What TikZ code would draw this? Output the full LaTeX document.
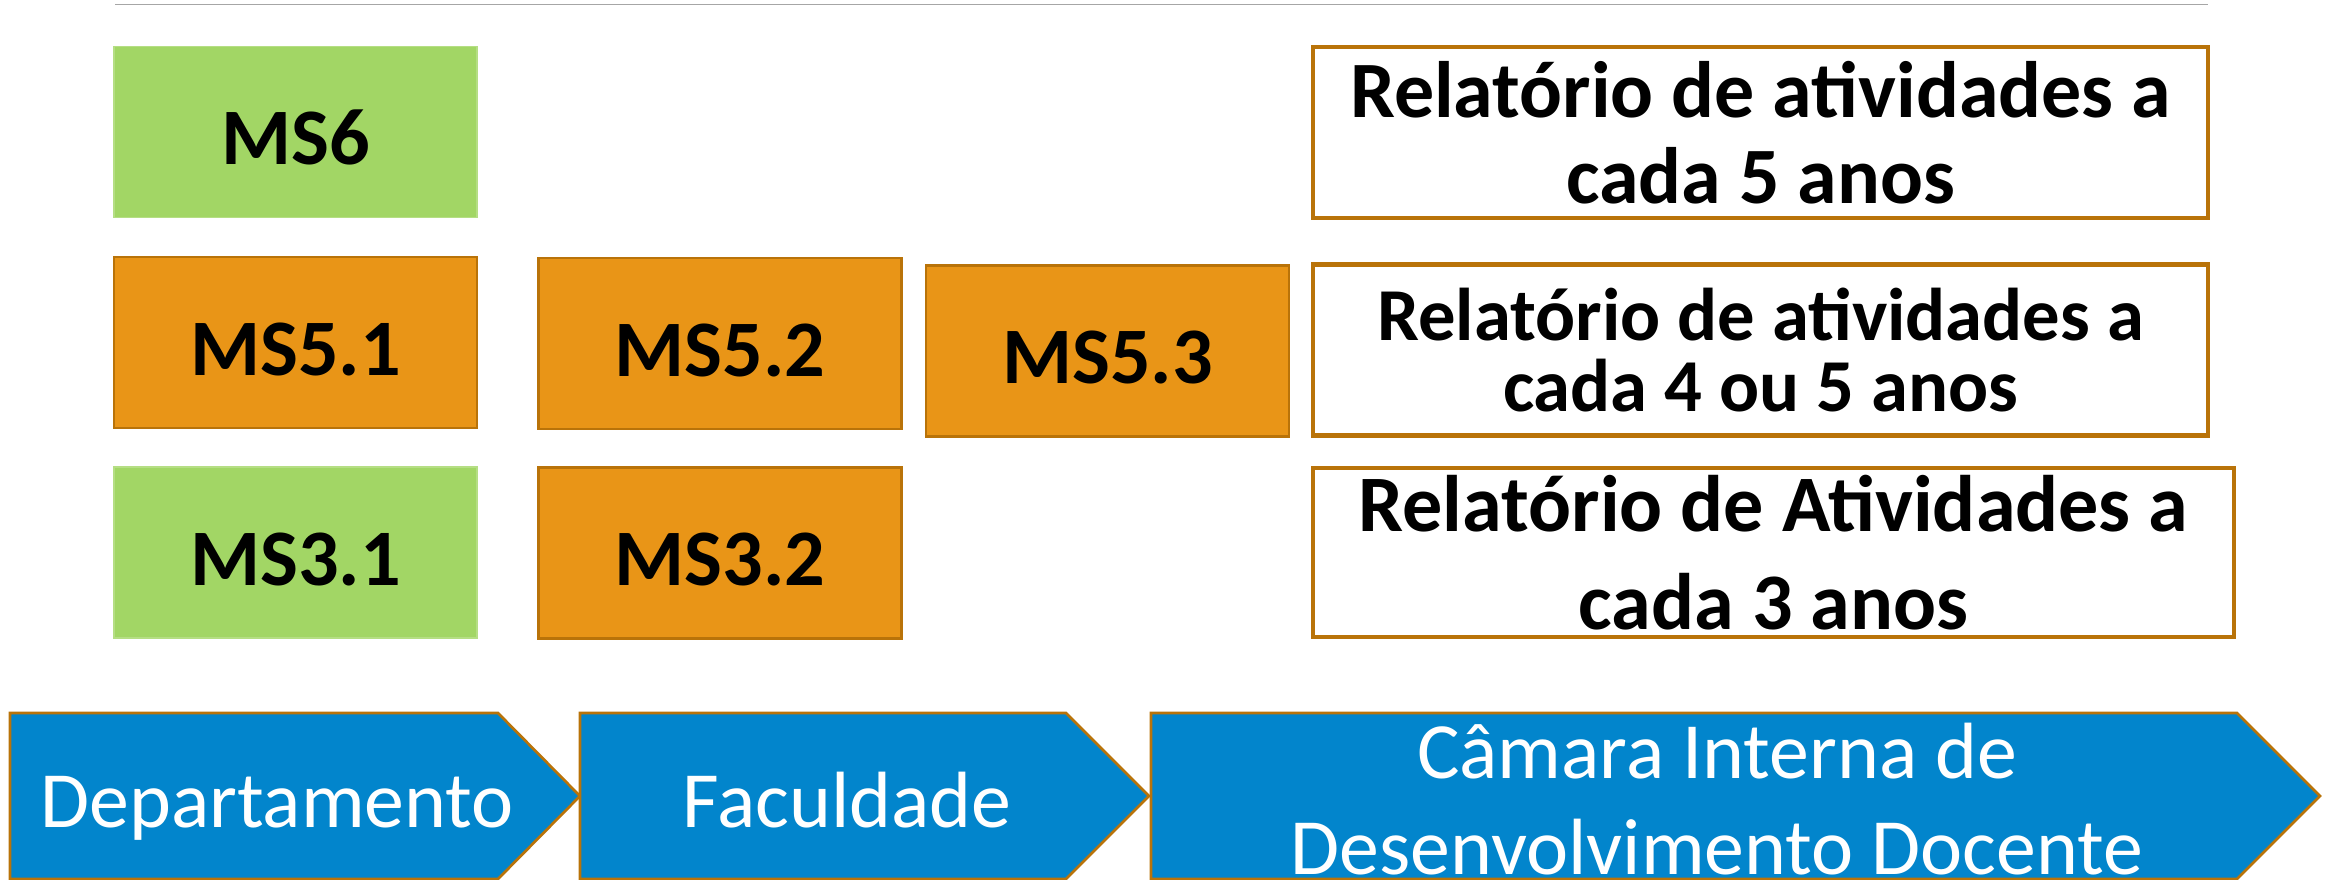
\documentclass[tikz,border=0pt]{standalone}
\usepackage{fontspec}
\setmainfont{Carlito}
\usepackage{tikz}

\definecolor{msgreen}{HTML}{A2D665}
\definecolor{msorange}{HTML}{E99517}
\definecolor{msbrown}{HTML}{B97309}
\definecolor{msblue}{HTML}{0285CC}
\definecolor{rulegray}{HTML}{A6A6A6}

\begin{document}
\begin{tikzpicture}[x=0.1mm, y=-0.1mm,
	msbox/.style={minimum width=36.3mm, minimum height=17.1mm, inner sep=0pt, font=\bfseries\fontsize{22.8}{27}\selectfont, text height=18.5pt, text depth=0pt},
	greenbox/.style={msbox, fill=msgreen, draw=msgreen!80!white, line width=0.4pt},
	orangebox/.style={msbox, fill=msorange, draw=msbrown, line width=0.8pt},
	relbox/.style={draw=msbrown, fill=white, line width=1.25pt, minimum width=89.5mm, minimum height=17.1mm, inner sep=0pt, align=center},
	chevron/.style={fill=msblue, draw=msbrown, line width=0.75pt, line join=miter},
	chevtext/.style={text=white, align=center, font=\fontsize{22.7}{27.3}\selectfont}]
	\useasboundingbox (0,0) rectangle (2330,879);
	\clip (0,0) rectangle (2330,879);
	% top rule
	\coordinate (ruleL) at (115,4.5);
	\coordinate (ruleR) at (2208,4.5);
	\draw [rulegray, line width=0.45pt] (ruleL) -- (ruleR);
	% levels
	\node[greenbox] (ms6) at (295.5,132) {MS6};
	\node[orangebox] (ms51) at (295.5,342.5) {MS5.1};
	\node[orangebox] (ms52) at (720,343.5) {MS5.2};
	\node[orangebox] (ms53) at (1107.5,351) {MS5.3};
	\node[greenbox] (ms31) at (295.5,552.5) {MS3.1};
	\node[orangebox] (ms32) at (720,553) {MS3.2};
	% reports
	\node[relbox, font=\bfseries\fontsize{22.75}{24.5}\selectfont] (rel5) at (1760.5,132.5) {Relatório de atividades a\\cada 5 anos};
	\node[relbox, font=\bfseries\fontsize{21.25}{20}\selectfont] (rel45) at (1760.5,350) {Relatório de atividades a\\cada 4 ou 5 anos};
	\node[relbox, minimum width=92.1mm, minimum height=16.9mm, font=\bfseries\fontsize{22.8}{28}\selectfont] (rel3) at (1773.5,552.5) {Relatório de Atividades a\\cada 3 anos};
	% process arrows
	\draw [chevron] (10,713) -- (498,713) -- (580,796) -- (498,879) -- (10,879) -- cycle;
	\draw [chevron] (580,713) -- (1066,713) -- (1149,796) -- (1066,879) -- (580,879) -- cycle;
	\draw [chevron] (1151,713) -- (2237,713) -- (2320,796) -- (2237,879) -- (1151,879) -- cycle;
	\node[chevtext, anchor=base] (dept) at (277,827) {Departamento};
	\node[chevtext, anchor=base] (fac) at (847,827) {Faculdade};
	\node[chevtext] (cidd) at (1717,799) {Câmara Interna de\\Desenvolvimento Docente};
\end{tikzpicture}
\end{document}
